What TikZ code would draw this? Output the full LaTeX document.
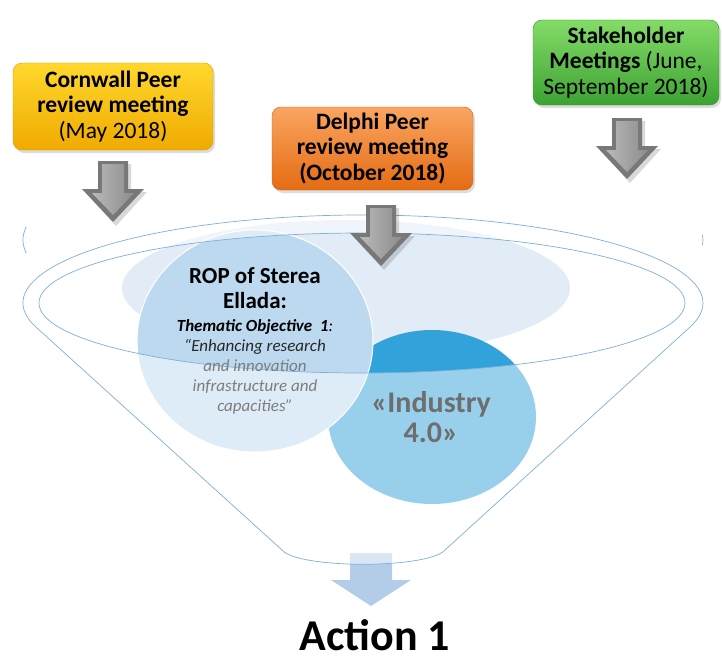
\documentclass[tikz,border=0pt]{standalone}
\usepackage{fontspec}
\setmainfont{Carlito}
\usetikzlibrary{shadows}
\definecolor{rimline}{RGB}{125,175,220}
\definecolor{palefill}{RGB}{226,236,247}
\definecolor{ropfill}{RGB}{189,217,239}
\definecolor{indfill}{RGB}{50,162,218}
\definecolor{actfill}{RGB}{179,205,233}
\definecolor{ytop}{RGB}{255,216,45}
\definecolor{ybot}{RGB}{240,170,0}
\definecolor{otop}{RGB}{250,165,98}
\definecolor{obot}{RGB}{228,108,18}
\definecolor{gtop}{RGB}{132,220,104}
\definecolor{gbot}{RGB}{60,162,50}
\definecolor{midgray}{RGB}{125,125,125}
\definecolor{indtext}{RGB}{110,110,110}
\definecolor{arrdark}{RGB}{120,120,120}
\definecolor{arrlight}{RGB}{185,185,185}
\definecolor{arrmid}{RGB}{140,140,140}
\begin{document}
\begin{tikzpicture}[x=1pt,y=-1pt,
  box/.style={rounded corners=9pt, inner sep=0pt, align=center,
    font=\fontsize{23.5}{25.5}\selectfont,
    drop shadow={opacity=0.28, shadow xshift=2pt, shadow yshift=-3pt}},
  rimstroke/.style={draw=rimline, line width=0.7pt},
  grayarr/.pic={
    \fill[black, opacity=0.15] (-13,3) -- (18,3) -- (18,31) -- (34,31) -- (3,65) -- (-28,31) -- (-13,31) -- cycle;
    \fill[arrdark] (-15,0) -- (15,0) -- (15,28) -- (31,28) -- (0,61) -- (-31,28) -- (-15,28) -- cycle;
    \shade[left color=arrlight, right color=arrmid] (-11,3) -- (11,3) -- (11,32) -- (21,32) -- (0,54) -- (-21,32) -- (-11,32) -- cycle;
  }]
\useasboundingbox (0,0) rectangle (722,661);

% background pale ellipse and the two circles
\fill[palefill] (346,288) ellipse [x radius=224, y radius=68];
\fill[indfill] (432,417) ellipse [x radius=104, y radius=87];
\fill[ropfill, draw=white, line width=1pt] (255,341) ellipse [x radius=118, y radius=111];

% bottom arrow
\fill[actfill] (350,553) -- (392,553) -- (392,580) -- (411,580) -- (371,606) -- (331,580) -- (350,580) -- cycle;

% funnel body: translucent white over everything below the rim
\fill[white, opacity=0.5, even odd rule]
  (36,327.1) arc[start angle=164.1, end angle=375.9, x radius=340, y radius=88]
  -- (445,550) .. controls (428,569) and (298,569) .. (282,550) -- cycle
  (362,303) ellipse [x radius=323, y radius=70];

% funnel outlines
\draw[rimstroke] (36,327.1) arc[start angle=164.1, end angle=375.9, x radius=340, y radius=88]
  -- (445,550) .. controls (428,569) and (298,569) .. (282,550) -- cycle;
\draw[rimstroke] (362,303) ellipse [x radius=323, y radius=70];
\draw[rimstroke] (26.3,253.2) arc[start angle=172, end angle=188, x radius=340, y radius=95];
\draw[rimstroke] (702.5,235) arc[start angle=-3, end angle=3, x radius=340, y radius=95];

% texts inside funnel
\node[font=\fontsize{23}{25}\selectfont\bfseries, align=center] (roptitle) at (255,288) {ROP of Sterea\\Ellada:};
\node[font=\fontsize{17}{20}\selectfont\itshape, align=center] (ropbody) at (255,367)
  {\textbf{Thematic Objective\ \ 1}:\\\textcolor{black!85}{“Enhancing research}\\\textcolor{midgray}{and innovation}\\\textcolor{midgray}{infrastructure and}\\\textcolor{midgray}{capacities”}};
\node[font=\fontsize{30}{30}\selectfont\bfseries, text=indtext, align=center] (ind) at (431,417) {«Industry\\4.0»};
\node[font=\fontsize{44}{48}\selectfont\bfseries, anchor=base, inner sep=0pt] (act) at (375,650) {Action 1};

% meeting boxes
\node[box, top color=ytop, bottom color=ybot, draw=ybot!90!black, minimum width=200pt, minimum height=87pt] (cornwall) at (113,106.5)
  {\textbf{Cornwall Peer}\\\textbf{review meeting}\\(May 2018)};
\node[box, top color=otop, bottom color=obot, draw=obot!90!black, minimum width=201pt, minimum height=83pt] (delphi) at (372.5,148.5)
  {\textbf{Delphi Peer}\\\textbf{review meeting}\\\textbf{(October 2018)}};
\node[box, top color=gtop, bottom color=gbot, draw=gbot!90!black, minimum width=186pt, minimum height=85pt] (stake) at (626,62.5)
  {\textbf{Stakeholder}\\\textbf{Meetings} (June,\\September 2018)};

% grey block arrows
\pic (arrC) at (113,161) {grayarr};
\pic (arrD) at (381,205) {grayarr};
\pic (arrS) at (627,118) {grayarr};
\end{tikzpicture}
\end{document}
